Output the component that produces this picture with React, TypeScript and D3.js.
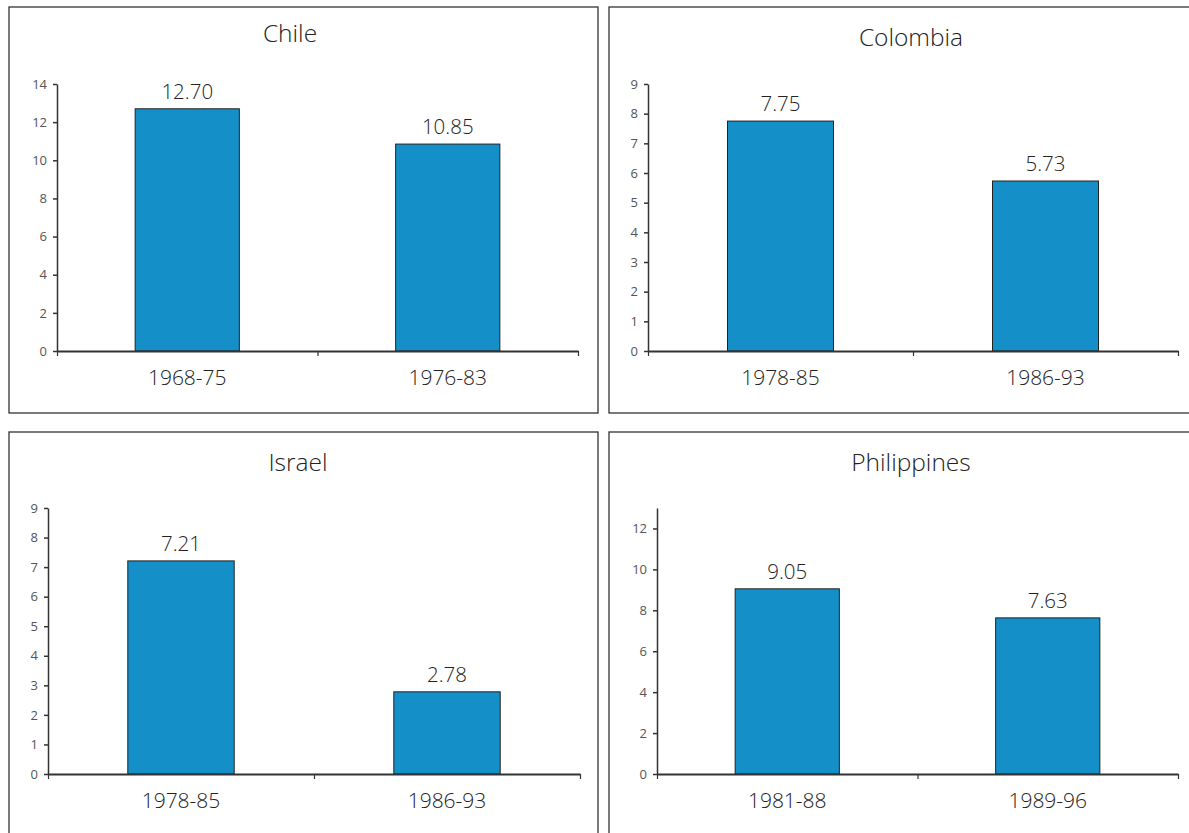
import { useEffect, useRef } from "react";
import * as d3 from "d3";

const countries = ["Chile", "Colombia", "Israel", "Philippines"];
const periods = [
  ["1968-75", "1976-83"],
  ["1978-85", "1986-93"],
  ["1978-85", "1986-93"],
  ["1981-88", "1989-96"],
];
const values = [
  [12.7, 10.85],
  [7.75, 5.73],
  [7.21, 2.78],
  [9.05, 7.63],
];
const yMax = [14, 9, 9, 13];
const yStep = [2, 1, 1, 2];

// panel frames and plot offsets (page pixels)
const layout = [
  { x: 9, y: 7, w: 589, h: 406, left: 48, right: 569, top: 77, bottom: 344, titleX: 281, titleY: 35 },
  { x: 609, y: 7, w: 620, h: 406, left: 39, right: 569, top: 77, bottom: 344, titleX: 302, titleY: 39 },
  { x: 9, y: 432, w: 589, h: 450, left: 39, right: 571, top: 76, bottom: 342, titleX: 289, titleY: 39 },
  { x: 609, y: 432, w: 620, h: 450, left: 48, right: 569, top: 76, bottom: 342, titleX: 302, titleY: 39 },
];

const W = 1189, H = 833;
const FONT = "'Open Sans', 'Noto Sans', sans-serif";
const BAR = "#148fc8";
const INK = "#333";

export default function App() {
  const ref = useRef<SVGSVGElement | null>(null);

  useEffect(() => {
    const svg = d3.select(ref.current);
    svg.selectAll("*").remove();
    svg.attr("viewBox", `0 0 ${W} ${H}`);

    svg.append("rect").attr("width", W).attr("height", H).attr("fill", "white");

    countries.forEach((name, i) => {
      const L = layout[i];
      const g = svg.append("g").attr("transform", `translate(${L.x},${L.y})`);

      g.append("rect")
        .attr("x", 0).attr("y", 0)
        .attr("width", L.w).attr("height", L.h)
        .attr("fill", "white")
        .attr("stroke", INK)
        .attr("stroke-width", 1.3);

      g.append("text")
        .attr("x", L.titleX).attr("y", L.titleY)
        .attr("text-anchor", "middle")
        .attr("font-family", FONT)
        .attr("font-weight", 300)
        .attr("font-size", 24.5)
        .attr("fill", "#222")
        .text(name);

      const x = d3.scaleBand<string>()
        .domain(periods[i])
        .range([L.left, L.right])
        .paddingInner(0.6)
        .paddingOuter(0.3);

      const y = d3.scaleLinear()
        .domain([0, yMax[i]])
        .range([L.bottom, L.top]);

      // bars
      g.selectAll("rect.bar")
        .data(values[i])
        .enter()
        .append("rect")
        .attr("class", "bar")
        .attr("x", (_, j) => x(periods[i][j])!)
        .attr("width", x.bandwidth())
        .attr("y", d => y(d))
        .attr("height", d => y(0) - y(d))
        .attr("fill", BAR)
        .attr("stroke", "#222")
        .attr("stroke-width", 1);

      // value labels
      g.selectAll("text.val")
        .data(values[i])
        .enter()
        .append("text")
        .attr("class", "val")
        .attr("x", (_, j) => x(periods[i][j])! + x.bandwidth() / 2)
        .attr("y", d => y(d) - 10)
        .attr("text-anchor", "middle")
        .attr("font-family", FONT)
        .attr("font-weight", 300)
        .attr("font-size", 20.5)
        .attr("fill", "#222")
        .text(d => d.toFixed(2));

      // y axis
      const ay = d3.axisLeft(y)
        .tickValues(d3.range(0, yMax[i] + 0.001, yStep[i]))
        .tickSize(4)
        .tickSizeOuter(0)
        .tickPadding(6);
      g.append("g")
        .attr("transform", `translate(${L.left},0)`)
        .call(ay as any)
        .call((a: d3.Selection<SVGGElement, unknown, null, undefined>) =>
          a.selectAll("path,line").attr("stroke", INK).attr("stroke-width", 1.5)
        )
        .call((a: d3.Selection<SVGGElement, unknown, null, undefined>) =>
          a.selectAll("text")
            .attr("fill", "#555")
            .attr("font-size", 13)
            .attr("font-weight", 400)
            .attr("font-family", FONT)
        );

      // x axis with ticks at category boundaries
      const xb = d3.scaleLinear().domain([0, periods[i].length]).range([L.left, L.right]);
      const ax = d3.axisBottom(xb)
        .tickValues(d3.range(0, periods[i].length + 1))
        .tickSize(5)
        .tickSizeOuter(0)
        .tickFormat(() => "");
      g.append("g")
        .attr("transform", `translate(0,${L.bottom})`)
        .call(ax as any)
        .call((a: d3.Selection<SVGGElement, unknown, null, undefined>) =>
          a.selectAll("path").attr("stroke", INK).attr("stroke-width", 2.2)
        )
        .call((a: d3.Selection<SVGGElement, unknown, null, undefined>) =>
          a.selectAll("line").attr("stroke", INK).attr("stroke-width", 1.2)
        );

      // category labels
      g.selectAll("text.cat")
        .data(periods[i])
        .enter()
        .append("text")
        .attr("class", "cat")
        .attr("x", d => x(d)! + x.bandwidth() / 2)
        .attr("y", L.bottom + 34)
        .attr("text-anchor", "middle")
        .attr("font-family", FONT)
        .attr("font-weight", 300)
        .attr("font-size", 21)
        .attr("fill", "#222")
        .text(d => d);
    });
  }, []);

  return (
    <svg
      ref={ref}
      width={W}
      height={H}
      style={{ position: "absolute", left: 0, top: 0, display: "block" }}
    />
  );
}
